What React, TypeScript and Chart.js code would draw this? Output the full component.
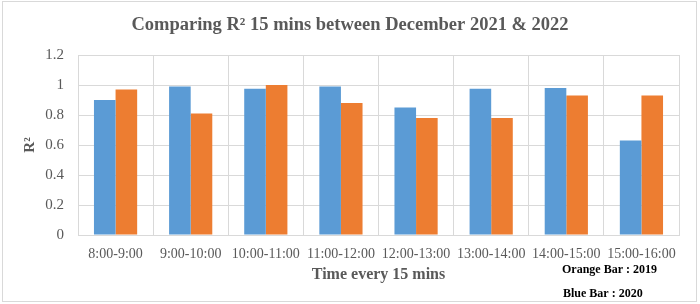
import React, { useEffect, useRef } from "react";
import { Chart, registerables } from "chart.js";

Chart.register(...registerables);

const categories = [
  "8:00-9:00",
  "9:00-10:00",
  "10:00-11:00",
  "11:00-12:00",
  "12:00-13:00",
  "13:00-14:00",
  "14:00-15:00",
  "15:00-16:00",
];
const blue2020 = [0.9, 0.99, 0.975, 0.99, 0.85, 0.975, 0.98, 0.63];
const orange2019 = [0.97, 0.81, 1.0, 0.88, 0.78, 0.78, 0.93, 0.93];

const titleText = "Comparing R² 15 mins between December 2021 & 2022";
const xTitleText = "Time every 15 mins";
const yTitleText = "R²";
const noteLines = ["Orange Bar : 2019", "Blue Bar : 2020"];

const SERIF = "'Liberation Serif', 'Times New Roman', serif";
const GREY = "#595959";

const decorPlugin = {
  id: "decor",
  afterDraw(chart: any) {
    const ctx = chart.ctx;
    ctx.save();
    ctx.strokeStyle = "#d9d9d9";
    ctx.lineWidth = 1;
    ctx.strokeRect(2.5, 1.5, 694, 300);
    ctx.fillStyle = GREY;
    ctx.font = `bold 18.5px ${SERIF}`;
    ctx.textAlign = "center";
    ctx.textBaseline = "middle";
    ctx.fillText(titleText, 350, 25);
    ctx.fillStyle = "#000000";
    ctx.font = `bold 12px ${SERIF}`;
    ctx.textAlign = "left";
    ctx.fillText(noteLines[0], 562, 270);
    ctx.fillText(noteLines[1], 563, 294);
    ctx.restore();
  },
  beforeDraw(chart: any) {
    const ctx = chart.ctx;
    ctx.save();
    ctx.fillStyle = "#ffffff";
    ctx.fillRect(0, 0, chart.width, chart.height);
    ctx.restore();
  },
};

export default function App() {
  const ref = useRef<HTMLCanvasElement | null>(null);
  useEffect(() => {
    document.body.style.margin = "0";
    if (!ref.current) return;
    const chart = new Chart(ref.current, {
      type: "bar",
      data: {
        labels: categories,
        datasets: [
          {
            label: "2020",
            data: blue2020,
            backgroundColor: "#5B9BD5",
            borderWidth: 0,
            categoryPercentage: 0.575,
            barPercentage: 1,
          },
          {
            label: "2019",
            data: orange2019,
            backgroundColor: "#ED7D31",
            borderWidth: 0,
            categoryPercentage: 0.575,
            barPercentage: 1,
          },
        ],
      },
      options: {
        animation: false,
        responsive: false,
        maintainAspectRatio: false,
        layout: { padding: { left: 8, right: 21, top: 55, bottom: 0 } },
        plugins: {
          legend: { display: false },
          title: { display: false },
          tooltip: { enabled: false },
        },
        scales: {
          x: {
            grid: { color: "#d9d9d9", drawTicks: false, offset: true },
            border: { color: "#d9d9d9" },
            ticks: {
              color: GREY,
              font: { family: SERIF, size: 14 },
              padding: 11,
              maxRotation: 0,
              autoSkip: false,
            },
            title: {
              display: true,
              text: xTitleText,
              color: GREY,
              font: { family: SERIF, size: 16, weight: "bold" },
              padding: { top: 0, bottom: 20 },
            },
            afterFit: (scale: any) => {
              scale.height = 69;
            },
          },
          y: {
            min: 0,
            max: 1.2,
            grid: { color: "#d9d9d9", drawTicks: false },
            border: { color: "#d9d9d9" },
            ticks: {
              stepSize: 0.2,
              color: GREY,
              font: { family: SERIF, size: 15 },
              padding: 14,
              callback: (v: any) => String(Number(Number(v).toFixed(1))),
            },
            title: {
              display: true,
              text: yTitleText,
              color: GREY,
              font: { family: SERIF, size: 15, weight: "bold" },
              padding: { top: 13, bottom: 0 },
            },
            afterFit: (scale: any) => {
              scale.width = 70;
            },
          },
        },
      },
      plugins: [decorPlugin],
    });
    return () => chart.destroy();
  }, []);
  return (
    <div style={{ width: 700, height: 304, position: "relative" }}>
      <canvas ref={ref} width={700} height={304} style={{ display: "block" }} />
    </div>
  );
}
